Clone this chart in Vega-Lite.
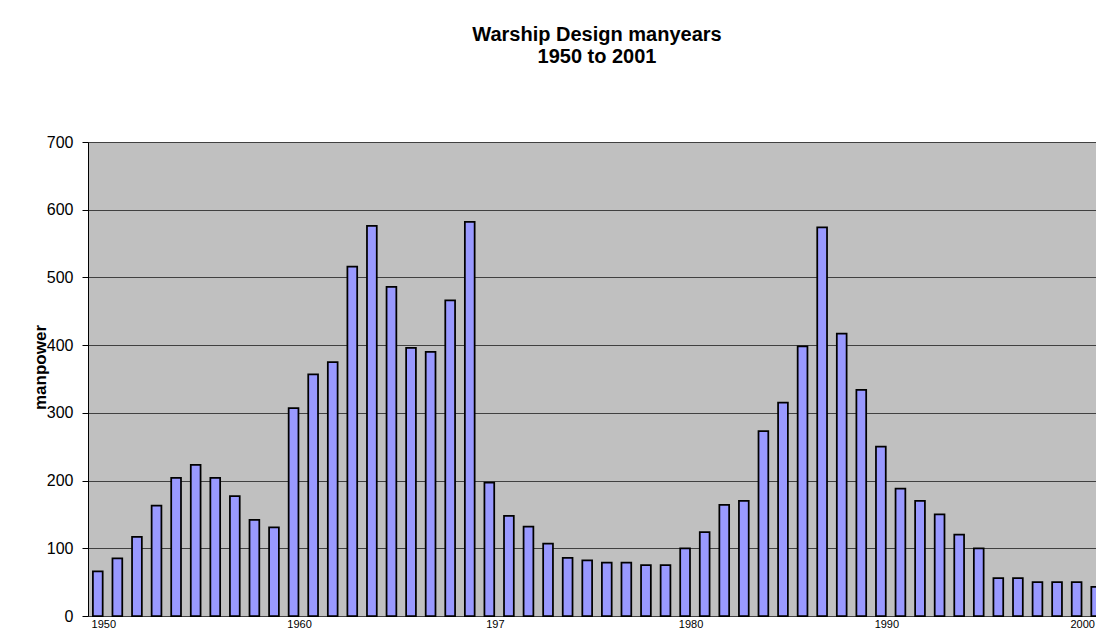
{
  "$schema": "https://vega.github.io/schema/vega-lite/v6.json",
  "autosize": "none",
  "width": 1018,
  "height": 474,
  "padding": {"left": 88, "top": 142, "right": -10, "bottom": 18},
  "background": "white",
  "config": {
    "font": "Liberation Sans",
    "view": {"fill": "#c0c0c0", "stroke": "#808080", "strokeWidth": 1}
  },
  "title": {
    "text": ["Warship Design manyears", "1950 to 2001"],
    "font": "Liberation Sans",
    "fontSize": 20,
    "fontWeight": "bold",
    "color": "black",
    "lineHeight": 22,
    "anchor": "middle",
    "offset": 67
  },
  "data": {
    "values": [
      {"year": 1950, "manpower": 66},
      {"year": 1951, "manpower": 85},
      {"year": 1952, "manpower": 117},
      {"year": 1953, "manpower": 163},
      {"year": 1954, "manpower": 204},
      {"year": 1955, "manpower": 223},
      {"year": 1956, "manpower": 204},
      {"year": 1957, "manpower": 177},
      {"year": 1958, "manpower": 142},
      {"year": 1959, "manpower": 131},
      {"year": 1960, "manpower": 307},
      {"year": 1961, "manpower": 357},
      {"year": 1962, "manpower": 375},
      {"year": 1963, "manpower": 516},
      {"year": 1964, "manpower": 576},
      {"year": 1965, "manpower": 486},
      {"year": 1966, "manpower": 396},
      {"year": 1967, "manpower": 390},
      {"year": 1968, "manpower": 466},
      {"year": 1969, "manpower": 582},
      {"year": 1970, "manpower": 197},
      {"year": 1971, "manpower": 148},
      {"year": 1972, "manpower": 132},
      {"year": 1973, "manpower": 107},
      {"year": 1974, "manpower": 86},
      {"year": 1975, "manpower": 82},
      {"year": 1976, "manpower": 79},
      {"year": 1977, "manpower": 79},
      {"year": 1978, "manpower": 75},
      {"year": 1979, "manpower": 75},
      {"year": 1980, "manpower": 100},
      {"year": 1981, "manpower": 124},
      {"year": 1982, "manpower": 164},
      {"year": 1983, "manpower": 170},
      {"year": 1984, "manpower": 273},
      {"year": 1985, "manpower": 315},
      {"year": 1986, "manpower": 398},
      {"year": 1987, "manpower": 574},
      {"year": 1988, "manpower": 417},
      {"year": 1989, "manpower": 334},
      {"year": 1990, "manpower": 250},
      {"year": 1991, "manpower": 188},
      {"year": 1992, "manpower": 170},
      {"year": 1993, "manpower": 150},
      {"year": 1994, "manpower": 120},
      {"year": 1995, "manpower": 100},
      {"year": 1996, "manpower": 56},
      {"year": 1997, "manpower": 56},
      {"year": 1998, "manpower": 50},
      {"year": 1999, "manpower": 50},
      {"year": 2000, "manpower": 50},
      {"year": 2001, "manpower": 43}
    ]
  },
  "mark": {"type": "bar", "fill": "#9999ff", "stroke": "black", "strokeWidth": 1.75},
  "encoding": {
    "x": {
      "field": "year",
      "type": "ordinal",
      "scale": {"paddingInner": 0.5, "paddingOuter": 0.25},
      "axis": {
        "title": null,
        "labelAngle": 0,
        "labelFontSize": 11,
        "labelColor": "black",
        "labelOffset": 6,
        "labelPadding": 2,
        "ticks": false,
        "domain": false,
        "grid": false,
        "labelOverlap": false,
        "labelExpr": "datum.value == 1970 ? '197' : (datum.value % 10 == 0 ? datum.label : '')"
      }
    },
    "y": {
      "field": "manpower",
      "type": "quantitative",
      "scale": {"domain": [0, 700], "nice": false},
      "axis": {
        "title": "manpower",
        "titleFontSize": 17,
        "titleFontWeight": "bold",
        "titleColor": "black",
        "titleX": -48,
        "titleY": 225,
        "titleBaseline": "middle",
        "titleAlign": "center",
        "titleAngle": -90,
        "values": [0, 100, 200, 300, 400, 500, 600, 700],
        "labelFontSize": 16,
        "labelColor": "black",
        "labelPadding": 9,
        "tickSize": 6,
        "tickColor": "black",
        "domainColor": "black",
        "grid": true,
        "gridColor": "#404040",
        "gridOpacity": 1,
        "gridWidth": 1
      }
    }
  }
}
